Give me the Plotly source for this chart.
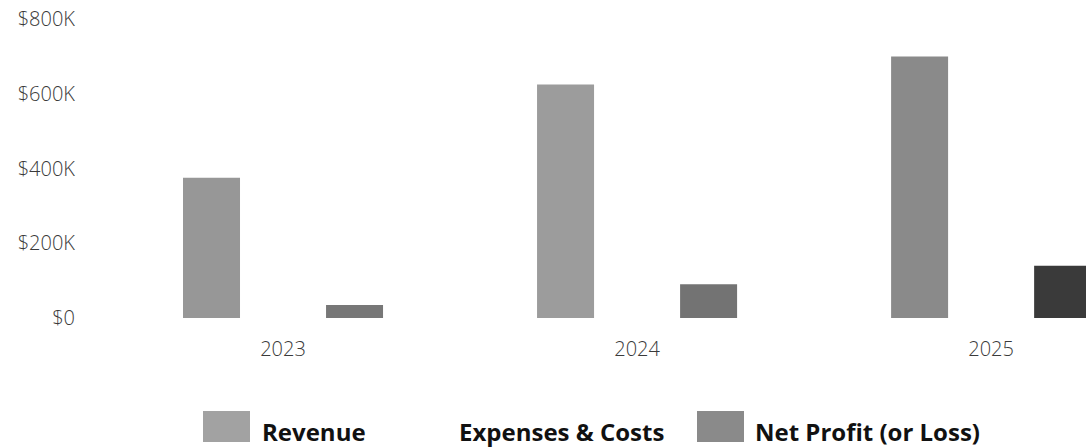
import plotly.graph_objects as go

# --- data -------------------------------------------------------------
years = ["2023", "2024", "2025"]
revenue = [375000, 625000, 700000]
expenses = [340000, 540000, 560000]
net_profit = [35000, 90000, 140000]

series_names = ["Revenue", "Expenses & Costs", "Net Profit (or Loss)"]

y_tick_values = [0, 200000, 400000, 600000, 800000]
y_tick_labels = ["$0", "$200K", "$400K", "$600K", "$800K"]

# --- styling ----------------------------------------------------------
revenue_colors = ["#979797", "#9c9c9c", "#8a8a8a"]
revenue_legend_color = "#a2a2a2"
expenses_color = "#ffffff"
net_colors = ["#777777", "#737373", "#3a3a3a"]
net_legend_color = "#8a8a8a"

FIG_W, FIG_H = 1086, 448
M_L, M_R, M_T, M_B = 106, 0, 19, 130
PLOT_W = FIG_W - M_L - M_R
PLOT_H = FIG_H - M_T - M_B


def px_to_paper_x(px):
    return (px - M_L) / PLOT_W


def px_to_paper_y(py):
    return (FIG_H - M_B - py) / PLOT_H


fig = go.Figure()
fig.add_trace(go.Bar(x=years, y=revenue, name=series_names[0],
                     marker=dict(color=revenue_colors, line=dict(width=0))))
fig.add_trace(go.Bar(x=years, y=expenses, name=series_names[1],
                     marker=dict(color=expenses_color, line=dict(width=0))))
fig.add_trace(go.Bar(x=years, y=net_profit, name=series_names[2],
                     marker=dict(color=net_colors, line=dict(width=0))))

# custom legend with large swatches underneath the plot
legend_items = [
    (series_names[0], revenue_legend_color, 203, 262),
    (series_names[1], expenses_color, 400, 459),
    (series_names[2], net_legend_color, 697, 755),
]
shapes = []
annotations = []
for name, color, sw_left, text_left in legend_items:
    shapes.append(dict(
        type="rect", xref="paper", yref="paper",
        x0=px_to_paper_x(sw_left), x1=px_to_paper_x(sw_left + 47),
        y0=px_to_paper_y(442), y1=px_to_paper_y(411),
        fillcolor=color, line=dict(width=0), layer="above",
    ))
    annotations.append(dict(
        text=name, xref="paper", yref="paper",
        x=px_to_paper_x(text_left - 2), y=px_to_paper_y(431),
        xanchor="left", yanchor="middle", showarrow=False,
        font=dict(family="Open Sans", size=24, color="#111111", weight="bold"),
    ))

tick_font = dict(family="Open Sans", size=20, color="#3a3a3a", weight=300)

fig.update_layout(
    width=FIG_W, height=FIG_H,
    margin=dict(l=M_L, r=M_R, t=M_T, b=M_B, autoexpand=False),
    paper_bgcolor="white", plot_bgcolor="white",
    barmode="group", bargap=0.394, bargroupgap=0.203,
    showlegend=False,
    font=dict(family="Open Sans", color="#3a3a3a"),
    shapes=shapes, annotations=annotations,
    xaxis=dict(
        type="category", range=[-0.5, 2.268],
        showgrid=False, showline=False, zeroline=False, ticks="",
        tickfont=tick_font,
        ticklabelstandoff=17,
    ),
    yaxis=dict(
        range=[0, 800000], tickvals=y_tick_values, ticktext=y_tick_labels,
        showgrid=False, showline=False, zeroline=False, ticks="",
        tickfont=tick_font,
        ticklabelstandoff=30,
    ),
)

fig.write_html("out.html")
